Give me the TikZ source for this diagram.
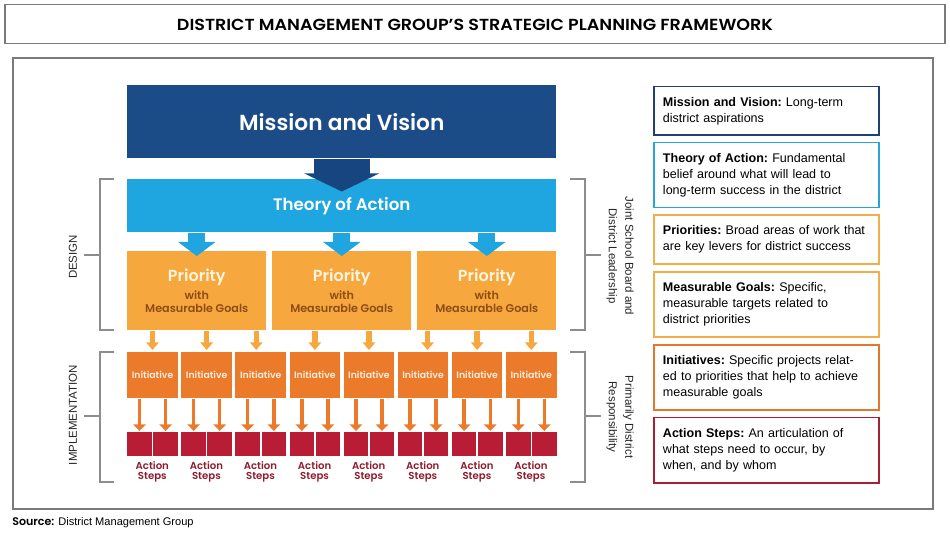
\documentclass[tikz,border=0pt]{standalone}
\usepackage{fontspec}
\setmainfont{Liberation Sans}
\newfontfamily\pop{Poppins}[BoldFont={Poppins SemiBold}]
\usetikzlibrary{arrows.meta,calc}
\definecolor{mvblue}{HTML}{1C4C88}
\definecolor{mvarrow}{HTML}{17457F}
\definecolor{toablue}{HTML}{1FA6E0}
\definecolor{prio}{HTML}{F6A83E}
\definecolor{priotext}{HTML}{8E4C16}
\definecolor{priowhite}{HTML}{FFF4DE}
\definecolor{initc}{HTML}{EC7A2B}
\definecolor{initwhite}{HTML}{FDEEDD}
\definecolor{actc}{HTML}{B91D35}
\definecolor{acttext}{HTML}{8E1B2D}
\definecolor{framegray}{HTML}{7A7A7A}
\definecolor{brgray}{HTML}{8C8C8C}
\definecolor{bmv}{HTML}{1F3F75}
\definecolor{btoa}{HTML}{2AA4D6}
\definecolor{bprio}{HTML}{F2AE48}
\definecolor{binit}{HTML}{E2772E}
\definecolor{bact}{HTML}{A82036}
\tikzset{
  frame/.style={draw=framegray,line width=1.1pt},
  bracket/.style={draw=brgray,line width=1.1pt},
  blk/.style={rectangle,inner sep=0pt,anchor=north west},
  mvbox/.style={blk,fill=mvblue,minimum width=321.75pt,minimum height=54.75pt,
    text=white,font=\pop\bfseries\fontsize{16.3pt}{18pt}\selectfont},
  toabox/.style={blk,fill=toablue,minimum width=321.75pt,minimum height=39.75pt,
    text=white,font=\pop\bfseries\fontsize{12.5pt}{14pt}\selectfont},
  priobox/.style={blk,fill=prio,minimum width=104.25pt,minimum height=59.25pt},
  priot/.style={text=priowhite,font=\pop\bfseries\fontsize{12pt}{14pt}\selectfont,inner sep=0pt},
  prios/.style={text=priotext,font=\pop\bfseries\fontsize{8.4pt}{10pt}\selectfont,inner sep=0pt},
  initbox/.style={blk,fill=initc,minimum width=37.95pt,minimum height=34.5pt,
    text=initwhite,font=\pop\bfseries\fontsize{7pt}{8pt}\selectfont},
  actbox/.style={blk,fill=actc,minimum width=18.4pt,minimum height=18pt},
  actlabel/.style={text=acttext,align=center,inner sep=0pt,
    font=\pop\bfseries\fontsize{7.6pt}{8pt}\selectfont},
  bigarrow/.style={draw=mvarrow,line width=42pt,-{Triangle[width=55.5pt,length=13.5pt]}},
  toaarrow/.style={draw=toablue,line width=12.5pt,-{Triangle[width=27.5pt,length=10.5pt]}},
  parrow/.style={draw=prio,line width=4.1pt,-{Triangle[width=9.2pt,length=5.7pt]}},
  iarrow/.style={draw=initc,line width=2.6pt,-{Triangle[width=9.3pt,length=5pt]}},
  rbox/.style={rectangle,anchor=north west,line width=1.2pt,minimum width=168.75pt,
    text width=155pt,inner xsep=6.8pt,inner ysep=0pt,align=left,
    font=\frenchspacing\fontsize{9.4pt}{12pt}\selectfont},
  sidelabel/.style={font=\fontsize{8.6pt}{12.4pt}\selectfont,text=black!85,align=center,inner sep=0pt},
}
\begin{document}
\begin{tikzpicture}[x=0.75pt,y=-0.75pt]
\useasboundingbox (0,0) rectangle (950,534);
% title and frames
\draw[frame] (5,4.7) rectangle (945,43.7);
\node (title) at (475,25) {\resizebox{447pt}{8.5pt}{\pop\bfseries DISTRICT MANAGEMENT GROUP’S STRATEGIC PLANNING FRAMEWORK}};
\draw[frame] (13,58) rectangle (933,509);
\node[anchor=west,inner sep=0pt] (src) at (12,523) {\fontsize{8.3pt}{10pt}\selectfont{\pop\bfseries Source:} District Management Group};
% main blocks
\node[mvbox] (mv) at (127,85) {Mission and Vision};
\node[toabox] (toa) at (127,179) {Theory of Action};
\draw[bigarrow] (mv.south) -- ($(toa.north)+(0,12.5)$);
\foreach \j/\x in {1/127,2/272,3/417}{
  \node[priobox] (p\j) at (\x,251) {};
  \node[priot] (pt\j) at ($(p\j.north)+(0,26.5)$) {Priority};
  \node[prios] (pw\j) at ($(p\j.north)+(0,44)$) {with};
  \node[prios] (pm\j) at ($(p\j.north)+(0,57)$) {Measurable Goals};
  \draw[toaarrow] (toa.south -| p\j) -- ($(p\j.north)+(0,5)$);
}
\foreach \i in {1,...,8}{
  \pgfmathsetmacro\xx{127+(\i-1)*54.1}
  \node[initbox] (i\i) at (\xx,352) {Initiative};
  \node[actbox] (al\i) at (\xx,432) {};
  \node[actbox] (ar\i) at (\xx+26.1,432) {};
  \node[actlabel] (at\i) at (\xx+25.3,472) {Action\\Steps};
  \draw[iarrow] (i\i.south -| al\i) -- ($(al\i.north)+(0,-1)$);
  \draw[iarrow] (i\i.south -| ar\i) -- ($(ar\i.north)+(0,-1)$);
}
% priority -> initiative arrows
\draw[parrow] (p1.south -| i1) -- ($(i1.north)+(0,-2)$);
\draw[parrow] (p1.south -| i2) -- ($(i2.north)+(0,-2)$);
\draw[parrow] ($(p1.south -| i3)+(-4.5,0)$) -- ($(i3.north)+(-4.5,-2)$);
\draw[parrow] (p2.south -| i4) -- ($(i4.north)+(0,-2)$);
\draw[parrow] (p2.south -| i5) -- ($(i5.north)+(0,-2)$);
\draw[parrow] ($(p3.south -| i6)+(4.5,0)$) -- ($(i6.north)+(4.5,-2)$);
\draw[parrow] (p3.south -| i7) -- ($(i7.north)+(0,-2)$);
\draw[parrow] (p3.south -| i8) -- ($(i8.north)+(0,-2)$);
% brackets
\draw[bracket] (114,179) -- (100,179) -- (100,330) -- (114,330);
\draw[bracket] (100,255) -- (84,255);
\draw[bracket] (114,352) -- (100,352) -- (100,482) -- (114,482);
\draw[bracket] (100,416) -- (84,416);
\draw[bracket] (570,179) -- (585,179) -- (585,330) -- (570,330);
\draw[bracket] (585,255) -- (601,255);
\draw[bracket] (570,352) -- (585,352) -- (585,482) -- (570,482);
\draw[bracket] (585,416) -- (601,416);
\node[sidelabel,rotate=90] (design) at (73,257) {DESIGN};
\node[sidelabel,rotate=90] (impl) at (73,415) {IMPLEMENTATION};
\node[sidelabel,rotate=-90] (joint) at (620,256) {Joint School Board and\\District Leadership};
\node[sidelabel,rotate=-90] (prim) at (620,417) {Primarily District\\Responsibility};
% legend
\node[rbox,draw=bmv,minimum height=36.45pt] (r1) at (653,85.7)
  {\textbf{Mission and Vision:} Long-term\\district aspirations};
\node[rbox,draw=btoa,minimum height=48.75pt] (r2) at (653,141.7)
  {\textbf{Theory of Action:} Fundamental\\belief around what will lead to\\long-term success in the district};
\node[rbox,draw=bprio,minimum height=36.75pt] (r3) at (653,214.3)
  {\textbf{Priorities:} Broad areas of work that\\are key levers for district success};
\node[rbox,draw=bprio,minimum height=48.75pt] (r4) at (653,271)
  {\textbf{Measurable Goals:} Specific,\\measurable targets related to\\district priorities};
\node[rbox,draw=binit,minimum height=49pt] (r5) at (653,344)
  {\textbf{Initiatives:} Specific projects relat-\\ed to priorities that help to achieve\\measurable goals};
\node[rbox,draw=bact,minimum height=49.2pt] (r6) at (653,416.7)
  {\textbf{Action Steps:} An articulation of\\what steps need to occur, by\\when, and by whom};
\end{tikzpicture}
\end{document}
